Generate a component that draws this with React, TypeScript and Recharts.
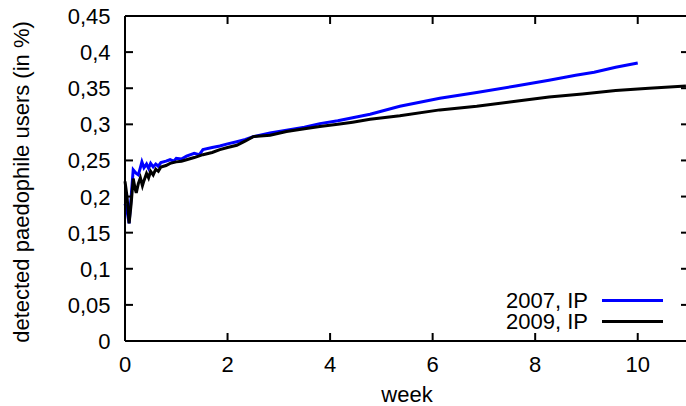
import { LineChart, Line, XAxis, YAxis } from "recharts";

// week -> share of detected users (%)
const weeks2007 = [
  0, 0.04, 0.08, 0.12, 0.16, 0.22, 0.26, 0.3, 0.33, 0.37, 0.42, 0.46, 0.5, 0.55,
  0.6, 0.65, 0.7, 0.8, 0.88, 0.95, 1.0, 1.1, 1.2, 1.35, 1.45, 1.52, 1.7, 1.85,
  2.0, 2.18, 2.35, 2.5, 2.83, 3.15, 3.5, 3.8, 4.15, 4.44, 4.78, 5.36, 6.14, 6.86,
  7.62, 8.27, 8.79, 9.15, 9.57, 10.0,
];
const ip2007 = [
  0.19, 0.18, 0.163, 0.2, 0.237, 0.232, 0.23, 0.24, 0.248, 0.24, 0.245, 0.239,
  0.246, 0.241, 0.245, 0.242, 0.247, 0.249, 0.251, 0.249, 0.253, 0.252, 0.256,
  0.26, 0.258, 0.265, 0.268, 0.27, 0.273, 0.276, 0.279, 0.283, 0.288, 0.292,
  0.296, 0.301, 0.305, 0.309, 0.314, 0.325, 0.336, 0.344, 0.353, 0.361, 0.368,
  0.372, 0.379, 0.385,
];

const weeks2009 = [
  0, 0.04, 0.08, 0.12, 0.16, 0.2, 0.22, 0.26, 0.3, 0.34, 0.37, 0.42, 0.46, 0.5,
  0.55, 0.6, 0.65, 0.7, 0.8, 0.88, 1.0, 1.1, 1.2, 1.35, 1.52, 1.7, 1.85, 2.0,
  2.18, 2.35, 2.5, 2.83, 3.15, 3.5, 3.8, 4.15, 4.44, 4.78, 5.36, 6.14, 6.86, 7.62,
  8.27, 8.92, 9.57, 10.22, 10.94,
];
const ip2009 = [
  0.221, 0.2, 0.163, 0.19, 0.225, 0.21, 0.205, 0.218, 0.226, 0.215, 0.222, 0.232,
  0.226, 0.235, 0.23, 0.238, 0.235, 0.241, 0.243, 0.246, 0.248, 0.249, 0.251,
  0.254, 0.258, 0.261, 0.265, 0.268, 0.271, 0.277, 0.283, 0.285, 0.29, 0.294,
  0.297, 0.3, 0.303, 0.307, 0.312, 0.32, 0.325, 0.332, 0.338, 0.342, 0.347, 0.35,
  0.353,
];

const xTicks = [0, 2, 4, 6, 8, 10];
const yTicks = [0, 0.05, 0.1, 0.15, 0.2, 0.25, 0.3, 0.35, 0.4, 0.45];

const series = [
  { name: "2007, IP", color: "#0000ff", weeks: weeks2007, values: ip2007 },
  { name: "2009, IP", color: "#000000", weeks: weeks2009, values: ip2009 },
];

const FONT = '"Liberation Sans", Arial, Helvetica, sans-serif';
const FS = 22;
const TICK_LEN = 8;

const fmtY = (v: number) =>
  v === 0 ? "0" : String(Number(v.toFixed(2))).replace(".", ",");

const axisLine = { stroke: "#000", strokeWidth: 2 };

// gnuplot style: ticks point into the plot, labels sit outside
function InwardTick(props: any) {
  const { x, y, payload, side, label } = props;
  let line = { x1: x, y1: y, x2: x, y2: y };
  if (side === "bottom") line.y2 = y - TICK_LEN;
  if (side === "top") line.y2 = y + TICK_LEN;
  if (side === "left") line.x2 = x + TICK_LEN;
  if (side === "right") line.x2 = x - TICK_LEN;
  return (
    <g>
      <line {...line} stroke="#000" strokeWidth={2} />
      {side === "bottom" && label && (
        <text x={x} y={y + 31} textAnchor="middle" fontSize={FS} fontFamily={FONT} fill="#000">
          {payload.value}
        </text>
      )}
      {side === "left" && label && (
        <text x={x - 14.5} y={y + 8} textAnchor="end" fontSize={FS} fontFamily={FONT} fill="#000">
          {fmtY(payload.value)}
        </text>
      )}
    </g>
  );
}

function YTitle() {
  return (
    <text
      x={0}
      y={0}
      transform="translate(21,182) rotate(-90)"
      textAnchor="middle"
      dominantBaseline="central"
      fontSize={FS}
      fontFamily={FONT}
      fill="#000"
    >
      detected paedophile users (in %)
    </text>
  );
}

export default function App() {
  const lineData = series.map((s) =>
    s.weeks.map((w, i) => ({ week: w, value: s.values[i] }))
  );
  return (
    <div
      style={{
        position: "fixed",
        left: 0,
        top: 0,
        width: 686,
        height: 406,
        overflow: "hidden",
        background: "#fff",
      }}
    >
      <LineChart
        width={690}
        height={406}
        margin={{ top: 0, right: 0, bottom: 0, left: 0 }}
      >
        <XAxis
          xAxisId="bottom"
          type="number"
          dataKey="week"
          domain={[0, 11]}
          ticks={xTicks}
          height={65}
          tick={<InwardTick side="bottom" label />}
          tickSize={0}
          tickMargin={0}
          axisLine={axisLine}
          tickLine={false}
          label={{
            value: "week",
            position: "insideBottom",
            offset: 4,
            fill: "#000",
            fontSize: FS,
            fontFamily: FONT,
          }}
        />
        <XAxis
          xAxisId="top"
          orientation="top"
          type="number"
          dataKey="week"
          domain={[0, 11]}
          ticks={xTicks}
          height={16}
          tick={<InwardTick side="top" />}
          tickSize={0}
          tickMargin={0}
          axisLine={axisLine}
          tickLine={false}
        />
        <YAxis
          yAxisId="left"
          type="number"
          domain={[0, 0.45]}
          ticks={yTicks}
          width={125}
          tick={<InwardTick side="left" label />}
          tickSize={0}
          tickMargin={0}
          axisLine={axisLine}
          tickLine={false}
          label={() => <YTitle />}
        />
        <YAxis
          yAxisId="right"
          orientation="right"
          type="number"
          domain={[0, 0.45]}
          ticks={yTicks}
          width={1}
          tick={<InwardTick side="right" />}
          tickSize={0}
          tickMargin={0}
          axisLine={axisLine}
          tickLine={false}
        />
        {/* invisible copy so the mirror axes (top/right) get data and draw their ticks */}
        <Line
          xAxisId="top"
          yAxisId="right"
          data={lineData[1]}
          dataKey="value"
          stroke="none"
          dot={false}
          legendType="none"
          isAnimationActive={false}
        />
        {series.map((s, k) => (
          <Line
            key={s.name}
            xAxisId="bottom"
            yAxisId="left"
            data={lineData[k]}
            dataKey="value"
            name={s.name}
            type="linear"
            stroke={s.color}
            strokeWidth={3}
            dot={false}
            isAnimationActive={false}
          />
        ))}
      </LineChart>
      {series.map((s, i) => (
        <div key={s.name}>
          <div
            style={{
              position: "absolute",
              left: 388,
              top: 290 + i * 21,
              width: 200,
              textAlign: "right",
              fontSize: FS,
              lineHeight: "21px",
              fontFamily: FONT,
              color: "#000",
              whiteSpace: "nowrap",
            }}
          >
            {s.name}
          </div>
          <div
            style={{
              position: "absolute",
              left: 602,
              top: 299 + i * 21,
              width: 61,
              height: 3,
              background: s.color,
            }}
          />
        </div>
      ))}
    </div>
  );
}
